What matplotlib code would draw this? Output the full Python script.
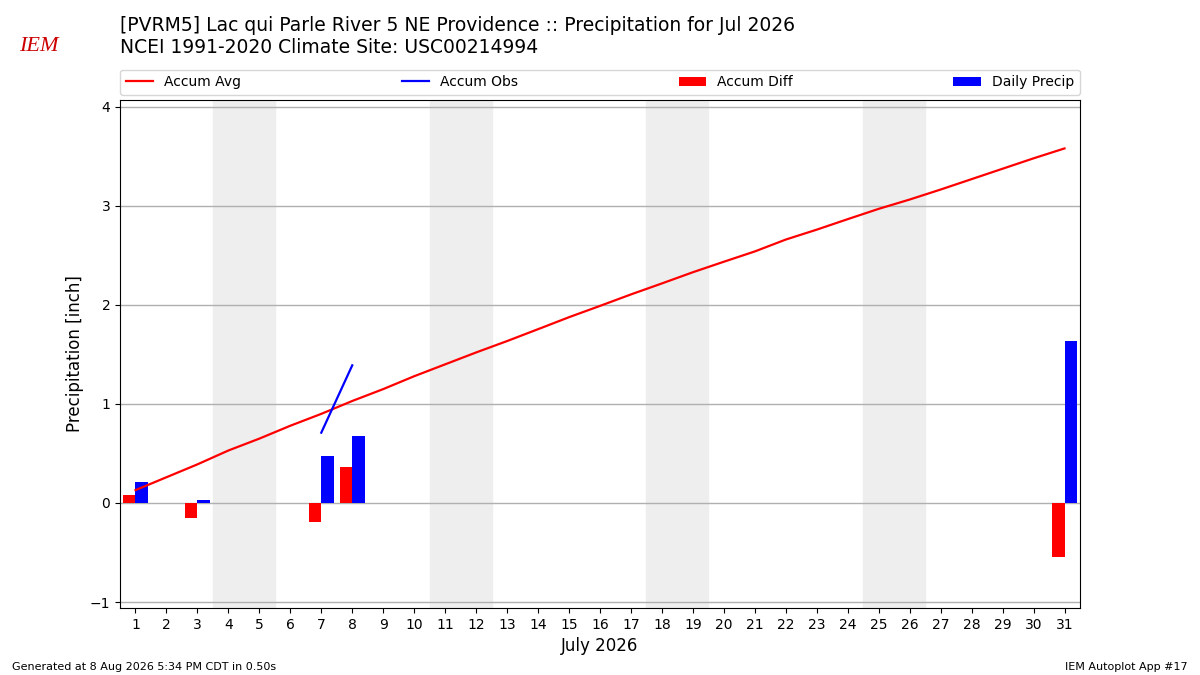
import numpy as np
import matplotlib
matplotlib.use("Agg")
import matplotlib.pyplot as plt

# climatology accumulated average, one value per day of July
days = np.arange(1, 32)
accum_avg = [0.13, 0.26, 0.39, 0.53, 0.65, 0.78, 0.90, 1.03, 1.15, 1.28,
             1.40, 1.52, 1.635, 1.755, 1.876, 1.99, 2.106, 2.217, 2.33, 2.436,
             2.54, 2.66, 2.76, 2.866, 2.97, 3.064, 3.165, 3.27, 3.375, 3.48,
             3.58]

# observed daily precip (only reported days)
obs_days = [1, 3, 7, 8, 31]
obs_precip = [0.21, 0.03, 0.47, 0.68, 1.64]

weekends = [(4, 5), (11, 12), (18, 19), (25, 26)]

title = ("[PVRM5] Lac qui Parle River 5 NE Providence :: Precipitation for Jul 2026\n"
         "NCEI 1991-2020 Climate Site: USC00214994")


def build_series():
    avg = np.array(accum_avg)
    daily = np.full(31, np.nan)
    daily[np.array(obs_days) - 1] = obs_precip
    accum = np.full(31, np.nan)
    accum[np.array(obs_days) - 1] = np.cumsum(obs_precip)
    diff = accum - avg
    return avg, daily, accum, diff


def plot_chart():
    avg, daily, accum, diff = build_series()

    fig = plt.figure(figsize=(12, 6.75), dpi=100)
    ax = fig.add_axes([0.1, 0.0993, 0.8, 0.7527])

    for start, end in weekends:
        ax.axvspan(start - 0.5, end + 0.5, color="#eeeeee", zorder=0)

    ax.plot(days, avg, color="r", lw=1.6, label="Accum Avg", zorder=3)
    ax.plot(days, accum, color="b", lw=1.6, label="Accum Obs", zorder=3)
    ax.bar(days, np.nan_to_num(diff), width=-0.4, align="edge", color="r",
           label="Accum Diff", zorder=2)
    ax.bar(days, np.nan_to_num(daily), width=0.4, align="edge", color="b",
           label="Daily Precip", zorder=2)

    ax.set_xlim(0.5, 31.5)
    ax.set_ylim(-1.06, 4.07)
    ax.set_xticks(days)
    ax.set_yticks(range(-1, 5))
    ax.grid(True, axis="y", color="#b0b0b0", lw=1, zorder=1)
    ax.set_axisbelow(True)
    ax.set_xlabel("July 2026", fontsize=12)
    ax.set_ylabel("Precipitation [inch]", fontsize=12)

    ax.legend(loc="lower left", bbox_to_anchor=(0, 1.01, 1, 0.1),
              mode="expand", ncol=4, borderaxespad=0, fontsize=10)

    fig.text(0.1, 0.977, title, fontsize=13.5, va="top", ha="left")
    fig.text(0.016, 0.925, "IEM", fontsize=16, color="#cc0000",
             family="Liberation Serif", style="italic")
    fig.text(0.01, 0.008, "Generated at 8 Aug 2026 5:34 PM CDT in 0.50s",
             fontsize=8)
    fig.text(0.99, 0.008, "IEM Autoplot App #17", fontsize=8, ha="right")

    fig.savefig("out.png", dpi=100)


if __name__ == "__main__":
    plot_chart()
